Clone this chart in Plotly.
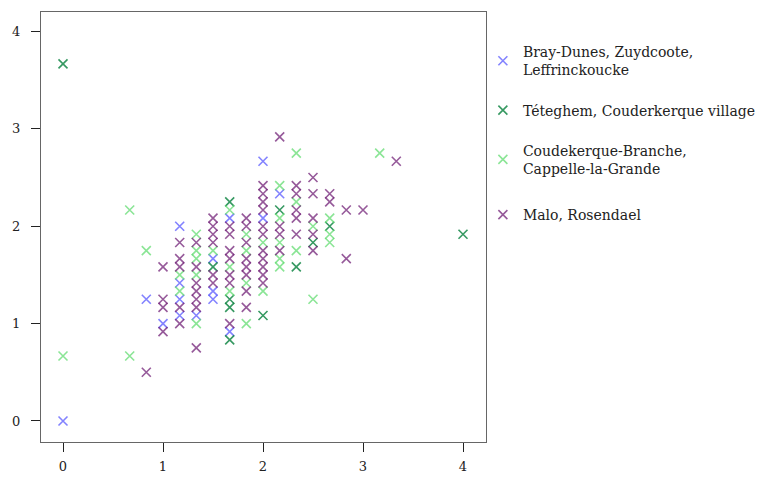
import plotly.graph_objects as go

# Tick labels
x_ticks = [0, 1, 2, 3, 4]
y_ticks = [0, 1, 2, 3, 4]

series_names = [
    "Bray-Dunes, Zuydcoote,<br>Leffrinckoucke",
    "Téteghem, Couderkerque village",
    "Coudekerque-Branche,<br>Cappelle-la-Grande",
    "Malo, Rosendael",
]

bray_x = [0, 0.833, 1, 1.167, 1.167, 1.167, 1.167, 1.333, 1.5, 1.5, 1.5, 1.667, 1.667, 2, 2, 2.167]
bray_y = [0, 1.25, 1.0, 2.0, 1.417, 1.25, 1.083, 1.083, 1.667, 1.333, 1.25, 2.083, 0.917, 2.667, 2.083, 2.333]

tet_x = [0, 1.5, 1.667, 1.667, 1.667, 1.667, 2, 2.167, 2.333, 2.5, 2.667, 4]
tet_y = [3.667, 1.583, 2.25, 1.25, 1.167, 0.833, 1.083, 2.167, 1.583, 1.833, 2.0, 1.917]

coud_x = [0, 0.667, 0.667, 0.833, 1.167, 1.167, 1.333, 1.333, 1.333, 1.333, 1.333, 1.5,
          1.667, 1.667, 1.667, 1.833, 1.833, 1.833, 1.833, 2, 2, 2.167, 2.167, 2.167, 2.167, 2.167,
          2.333, 2.333, 2.333, 2.5, 2.5, 2.667, 2.667, 2.667, 3.167]
coud_y = [0.667, 2.167, 0.667, 1.75, 1.5, 1.333, 1.917, 1.75, 1.667, 1.5, 1.0, 1.75,
          2.167, 1.583, 1.333, 1.917, 1.75, 1.417, 1.0, 1.833, 1.333, 2.417, 2.083, 1.833, 1.667, 1.583,
          2.75, 2.25, 1.75, 2.0, 1.25, 2.083, 1.917, 1.833, 2.75]

malo_x = [0.833, 1, 1, 1, 1, 1.167, 1.167, 1.167, 1.167, 1.167,
          1.333, 1.333, 1.333, 1.333, 1.333, 1.333, 1.333,
          1.5, 1.5, 1.5, 1.5, 1.5, 1.5,
          1.667, 1.667, 1.667, 1.667, 1.667, 1.667, 1.667,
          1.833, 1.833, 1.833, 1.833, 1.833, 1.833, 1.833, 1.833,
          2, 2, 2, 2, 2, 2, 2, 2, 2, 2, 2,
          2.167, 2.167, 2.167, 2.167,
          2.333, 2.333, 2.333, 2.333, 2.333,
          2.5, 2.5, 2.5, 2.5, 2.5,
          2.667, 2.667, 2.833, 2.833, 3, 3.333]
malo_y = [0.5, 1.583, 1.25, 1.167, 0.917, 1.833, 1.667, 1.583, 1.167, 1.0,
          1.833, 1.583, 1.417, 1.333, 1.25, 1.167, 0.75,
          2.083, 2.0, 1.917, 1.833, 1.5, 1.417,
          2.0, 1.917, 1.75, 1.667, 1.5, 1.417, 1.0,
          2.083, 2.0, 1.833, 1.667, 1.583, 1.5, 1.333, 1.167,
          2.417, 2.333, 2.25, 2.167, 2.0, 1.917, 1.75, 1.667, 1.583, 1.5, 1.417,
          2.917, 2.0, 1.917, 1.75,
          2.417, 2.333, 2.167, 2.083, 1.917,
          2.5, 2.333, 2.083, 1.917, 1.75,
          2.333, 2.25, 2.167, 1.667, 2.167, 2.667]

colors = ["rgba(90,90,255,0.75)", "rgba(20,135,70,0.85)", "rgba(100,220,115,0.75)", "rgba(115,35,120,0.75)"]
legend_refs = ["legend", "legend", "legend", "legend2"]

data = [(bray_x, bray_y), (tet_x, tet_y), (coud_x, coud_y), (malo_x, malo_y)]

FONT = "DejaVu Serif"
fig = go.Figure()
for i, ((xs, ys), name, col, lg) in enumerate(zip(data, series_names, colors, legend_refs)):
    fig.add_trace(go.Scatter(
        x=xs, y=ys, mode="markers", name=name, legendgroup=f"g{i}", legend=lg,
        marker=dict(symbol="x-thin", size=9, color=col, line=dict(width=1.6, color=col)),
    ))

axis_common = dict(
    showline=True, linecolor="#666", linewidth=1, mirror=True,
    ticks="outside", ticklen=9, tickcolor="#222", tickwidth=1,
    showgrid=False, zeroline=False, automargin=False,
    tickfont=dict(family=FONT, size=13, color="#222"),
)
fig.update_xaxes(range=[-0.22, 4.23], tickvals=x_ticks, ticklabelstandoff=3, **axis_common)
fig.update_yaxes(range=[-0.216, 4.2], tickvals=y_ticks, ticklabelstandoff=8, **axis_common)

legend_common = dict(
    xanchor="left", yanchor="top", bgcolor="rgba(0,0,0,0)",
    font=dict(family=FONT, size=14, color="#222"), itemsizing="trace",
)
fig.update_layout(
    width=757, height=470,
    margin=dict(l=33, r=279, t=4, b=36),
    plot_bgcolor="white", paper_bgcolor="white",
    legend=dict(x=0.993, y=0.944, tracegroupgap=19, **legend_common),
    legend2=dict(x=0.993, y=0.565, **legend_common),
)

fig.write_html("out.html")
